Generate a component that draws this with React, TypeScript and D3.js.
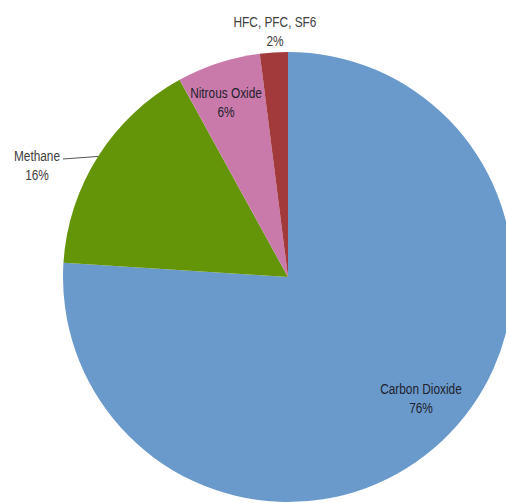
import React from "react";
import * as d3 from "d3";

const categories = ["Carbon Dioxide", "Methane", "Nitrous Oxide", "HFC, PFC, SF6"];
const values = [76, 16, 6, 2];
const colors = ["#6A9ACB", "#649509", "#C97AAA", "#A2393A"];
// label anchor positions (first line centre) relative to pie center (dx, dy)
const labelOffsets: [number, number][] = [
  [133, 111],
  [-251, -122],
  [-62, -185],
  [-13, -256],
];

const W = 506;
const H = 503;
const cx = 288;
const cy = 277;
const R = 225;

export default function App() {
  const pie = d3.pie<number>().sort(null).value((d) => d)(values);
  const arc = d3.arc<d3.PieArcDatum<number>>().innerRadius(0).outerRadius(R);
  const font = "'Liberation Sans', Arial, sans-serif";
  const total = d3.sum(values);

  const m = pie[1];
  const midA = (m.startAngle + m.endAngle) / 2;
  const edge: [number, number] = [Math.sin(midA) * R, -Math.cos(midA) * R];

  return (
    <svg
      width={W}
      height={H}
      style={{ position: "fixed", left: 0, top: 0, background: "#fff" }}
    >
      <g transform={`translate(${cx},${cy})`}>
        {pie.map((d, i) => (
          <path key={i} d={arc(d) || ""} fill={colors[i]} />
        ))}
        <line
          x1={labelOffsets[1][0] + 26}
          y1={labelOffsets[1][1] + 4}
          x2={edge[0]}
          y2={edge[1]}
          stroke="#555"
          strokeWidth={1}
        />
        {pie.map((d, i) => {
          const [dx, dy] = labelOffsets[i];
          const inside = i === 0 || i === 2;
          return (
            <g key={"t" + i} transform={`translate(${dx},${dy}) scale(0.79,1)`}>
              <text
                textAnchor="middle"
                fontFamily={font}
                fontSize={15}
                fill={inside ? "#1F1F2E" : "#404040"}
              >
                <tspan x={0} y={5.5}>{categories[i]}</tspan>
                <tspan x={0} y={25.5}>{Math.round((values[i] / total) * 100)}%</tspan>
              </text>
            </g>
          );
        })}
      </g>
    </svg>
  );
}
